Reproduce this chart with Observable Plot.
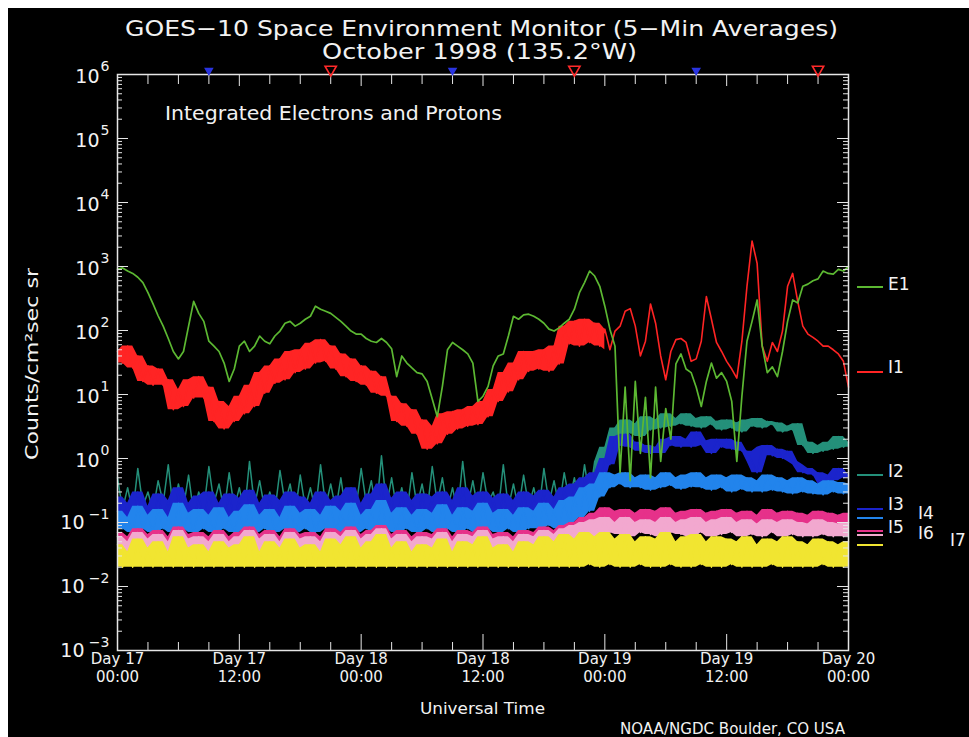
<!DOCTYPE html>
<html><head><meta charset="utf-8">
<script src="https://cdn.jsdelivr.net/npm/d3@7"></script>
<script src="https://cdn.jsdelivr.net/npm/@observablehq/plot@0.6"></script>
<style>
html,body{margin:0;padding:0;background:#fff;}
#page{position:relative;width:969px;height:737px;overflow:hidden;background:#fff;}
#bg{position:absolute;left:8px;top:8px;right:0;bottom:0;background:#000;}
#chart{position:absolute;left:0;top:60px;}
#overlay{position:absolute;left:0;top:0;pointer-events:none;}
</style></head>
<body><div id="page"><div id="bg"></div><div id="chart"></div><svg id="overlay" width="969" height="737"></svg></div>
<script>
// ---------------- data (sampled every 30 min, Day 17 00:00 -> Day 20 00:00 UT) ----------------
const stepHours = 0.5;
const E1 = [
 900,950,850,780,680,560,390,260,170,117,
 75,47,36,47,117,285,185,139,68,57,
 47,31,16,25,57,68,47,57,82,68,
 62,82,98,130,139,117,130,150,167,240,
 215,200,185,160,139,117,98,88,88,75,
 68,65,75,65,52,19,40,31,26,22,
 21,16,8.5,4.5,13.4,50,65,57,50,43,
 31,7.8,9.4,13.4,28,40,43,82,167,150,
 175,180,167,150,130,105,98,110,130,150,
 215,390,560,850,710,490,240,105,57,0.6,
 13,0.45,16,1.2,9,0.5,13,0.9,6,2,
 30,43,25,22,13,6.5,16,31,18,22,
 16,7.8,0.9,9.4,68,139,300,57,22,27,
 19,47,139,300,270,490,530,600,640,850,
 780,760,900,850,1000];
const I1 = [
 47,31,57,26,40,16,28,14,25,14,
 17,5.8,12,6.5,17,8.8,19,8.8,13,3.8,
 7.8,2.9,6.5,3.8,9.4,5,14,6.5,22,10.5,
 28,15,36,17,47,22,50,25,63,31,
 72,33,57,25,43,19,36,16,28,14,
 23,10.5,19,9.4,9.4,3.8,7.2,3.2,5.8,2.4,
 4,1.4,3.2,1.7,5,2.4,5.4,2.9,5.8,3.2,
 6.5,3.4,7.8,4.5,12,7.8,22,11,31,17,
 47,23,47,25,50,23,57,30,117,62,
 139,57,150,65,130,57,105,50,98,117,
 200,220,117,40,68,260,130,40,17,47,
 72,75,65,33,36,68,340,150,65,47,
 33,25,18,68,490,2500,1120,57,33,65,
 47,98,490,780,285,117,88,78,68,57,
 57,50,43,33,13];
const I2 = [
 0.5,0.16,0.35,0.14,0.7,0.18,0.3,0.15,0.45,0.2,0.8,0.15,0.4,0.17,0.55,0.14,0.3,0.16,0.75,0.2,
 0.4,0.15,0.6,0.17,0.35,0.14,0.9,0.18,0.45,0.16,0.3,0.15,0.65,0.2,0.4,0.14,0.55,0.17,0.35,0.15,
 0.8,0.18,0.4,0.16,0.5,0.14,0.3,0.17,0.7,0.2,0.45,0.15,1.1,0.18,0.5,0.16,0.35,0.14,0.6,0.18,
 0.4,0.15,0.75,0.2,0.5,0.16,0.35,0.14,0.9,0.18,0.45,0.16,0.6,0.2,0.3,0.15,0.8,0.17,0.4,0.16,
 0.55,0.18,0.35,0.15,0.7,0.2,0.45,0.17,0.6,0.22,0.5,0.2,0.8,0.25,
 0.9,0.5,1.5,1.0,3,1.8,4,2.5,3.5,2.2,
 4.5,2.8,4,3,5,3.2,4.2,3.5,5,3.2,
 4.2,3.0,4.5,3.4,3.8,2.8,4,3,3.6,2.6,
 4,3.2,4.2,3,3.8,3.4,3.6,2.6,3.2,2.8,
 3.5,1.6,1.8,1.2,1.6,1.3,1.8,1.4,2.2,1.5,
 1.8];
const I3 = [
 0.25,0.11,0.2,0.1,0.3,0.12,0.18,0.1,0.28,0.11,0.22,0.09,0.35,0.12,0.2,0.1,0.26,0.11,0.3,0.12,
 0.2,0.1,0.28,0.11,0.24,0.09,0.32,0.12,0.2,0.1,0.27,0.11,0.22,0.1,0.3,0.12,0.25,0.11,0.2,0.1,
 0.3,0.12,0.22,0.1,0.26,0.11,0.35,0.12,0.2,0.1,0.28,0.11,0.4,0.12,0.24,0.1,0.3,0.11,0.22,0.1,
 0.28,0.12,0.25,0.1,0.3,0.11,0.22,0.1,0.35,0.12,0.26,0.11,0.3,0.1,0.24,0.11,0.28,0.12,0.22,0.1,
 0.3,0.12,0.26,0.11,0.32,0.12,0.25,0.12,0.35,0.14,0.4,0.16,0.5,0.2,
 0.6,0.4,1.0,0.8,2.2,1.6,2.4,1.5,1.8,1.3,
 1.6,1.2,1.5,1.2,2.0,1.6,2.2,1.5,2.0,1.5,
 2.6,1.9,1.6,1.2,2.0,1.5,2.0,1.4,1.8,1.3,
 1.3,0.9,0.6,1.5,1.6,1.1,1.4,1.0,1.3,0.9,
 0.8,0.6,0.7,0.55,0.6,0.4,0.55,0.45,0.7,0.5,
 0.55];
const I4 = [
 0.15,0.08,0.12,0.07,0.18,0.08,0.13,0.07,0.16,0.08,0.12,0.07,0.2,0.08,0.14,0.07,0.16,0.08,0.13,0.07,
 0.17,0.08,0.12,0.07,0.15,0.08,0.19,0.07,0.13,0.08,0.16,0.07,0.12,0.08,0.18,0.07,0.14,0.08,0.16,0.07,
 0.13,0.08,0.18,0.07,0.15,0.08,0.2,0.07,0.13,0.08,0.16,0.07,0.22,0.08,0.14,0.07,0.17,0.08,0.13,0.07,
 0.16,0.08,0.14,0.07,0.19,0.08,0.13,0.07,0.17,0.08,0.15,0.07,0.2,0.08,0.14,0.07,0.16,0.08,0.13,0.07,
 0.17,0.08,0.15,0.08,0.2,0.09,0.16,0.08,0.22,0.1,0.25,0.12,0.35,0.15,
 0.4,0.25,0.6,0.35,0.55,0.4,0.6,0.35,0.5,0.35,
 0.55,0.32,0.5,0.35,0.6,0.38,0.5,0.33,0.55,0.36,
 0.6,0.35,0.5,0.32,0.55,0.35,0.5,0.3,0.55,0.33,
 0.5,0.3,0.45,0.3,0.55,0.32,0.5,0.3,0.45,0.28,
 0.5,0.3,0.45,0.28,0.4,0.27,0.45,0.3,0.42,0.28,
 0.4];
const I5 = [
 0.07,0.042,0.06,0.04,0.08,0.045,0.065,0.04,0.075,0.043,0.06,0.04,0.085,0.045,0.065,0.04,0.07,0.042,0.06,0.04,
 0.075,0.043,0.06,0.04,0.07,0.045,0.085,0.04,0.065,0.042,0.075,0.04,0.06,0.043,0.08,0.04,0.065,0.045,0.07,0.04,
 0.06,0.042,0.08,0.04,0.07,0.045,0.085,0.04,0.065,0.043,0.075,0.04,0.09,0.045,0.065,0.04,0.075,0.042,0.06,0.04,
 0.07,0.043,0.065,0.04,0.08,0.045,0.06,0.04,0.075,0.042,0.07,0.04,0.085,0.045,0.065,0.04,0.07,0.043,0.06,0.04,
 0.075,0.045,0.07,0.045,0.085,0.05,0.075,0.048,0.09,0.055,0.1,0.06,0.12,0.07,
 0.14,0.08,0.17,0.1,0.15,0.1,0.16,0.09,0.14,0.1,0.16,0.09,0.15,0.1,0.17,0.1,0.14,0.09,0.15,0.1,
 0.16,0.09,0.14,0.1,0.15,0.09,0.16,0.1,0.14,0.09,0.15,0.1,0.13,0.09,0.16,0.1,0.14,0.09,0.15,0.1,
 0.14,0.09,0.13,0.09,0.15,0.1,0.14,0.09,0.13,0.09,
 0.14];
const I6 = [
 0.06,0.035,0.05,0.033,0.07,0.036,0.055,0.034,0.065,0.035,0.05,0.033,0.075,0.036,0.055,0.034,0.06,0.035,0.05,0.033,
 0.065,0.035,0.05,0.034,0.06,0.036,0.075,0.033,0.055,0.035,0.065,0.034,0.05,0.035,0.07,0.033,0.055,0.036,0.06,0.034,
 0.05,0.035,0.07,0.033,0.06,0.036,0.075,0.034,0.055,0.035,0.065,0.033,0.08,0.036,0.055,0.034,0.065,0.035,0.05,0.033,
 0.06,0.035,0.055,0.034,0.07,0.036,0.05,0.033,0.065,0.035,0.06,0.034,0.075,0.036,0.055,0.033,0.06,0.035,0.05,0.034,
 0.065,0.036,0.06,0.036,0.075,0.04,0.065,0.04,0.08,0.045,0.09,0.05,0.1,0.055,
 0.11,0.06,0.12,0.07,0.1,0.065,0.12,0.06,0.1,0.07,0.11,0.065,0.1,0.06,0.12,0.07,0.1,0.065,0.11,0.06,
 0.12,0.07,0.1,0.06,0.11,0.065,0.12,0.07,0.1,0.06,0.11,0.065,0.095,0.06,0.11,0.07,0.1,0.06,0.11,0.065,
 0.1,0.06,0.095,0.06,0.11,0.065,0.1,0.06,0.095,0.06,
 0.1];
const I7 = [
 0.045,0.02,0.035,0.02,0.055,0.02,0.04,0.02,0.05,0.02,0.035,0.02,0.06,0.02,0.04,0.02,0.045,0.02,0.035,0.02,
 0.05,0.02,0.04,0.02,0.045,0.02,0.06,0.02,0.035,0.02,0.05,0.02,0.04,0.02,0.055,0.02,0.04,0.02,0.045,0.02,
 0.035,0.02,0.055,0.02,0.045,0.02,0.06,0.02,0.04,0.02,0.05,0.02,0.065,0.02,0.04,0.02,0.05,0.02,0.035,0.02,
 0.045,0.02,0.04,0.02,0.055,0.02,0.035,0.02,0.05,0.02,0.045,0.02,0.06,0.02,0.04,0.02,0.045,0.02,0.035,0.02,
 0.05,0.02,0.045,0.02,0.06,0.02,0.05,0.02,0.065,0.02,0.055,0.02,0.07,0.022,
 0.06,0.02,0.07,0.022,0.055,0.02,0.065,0.02,0.05,0.022,0.06,0.02,0.055,0.02,0.07,0.022,0.05,0.02,0.06,0.02,
 0.065,0.022,0.05,0.02,0.06,0.02,0.055,0.022,0.05,0.02,0.06,0.02,0.045,0.02,0.055,0.022,0.05,0.02,0.06,0.02,
 0.05,0.02,0.045,0.02,0.055,0.022,0.05,0.02,0.045,0.02,
 0.05];

const seriesNames = ["E1","I1","I2","I3","I4","I5","I6","I7"];
const seriesValues = [E1, I1, I2, I3, I4, I5, I6, I7];
const seriesColors = ["#5cb832","#ff2424","#24907a","#1b24cc","#2284ec","#e6318a","#f2a8cf","#f1e531"];
// hour range in which each series is drawn as a dense band (null = thin line only)
const bandRange = [null, [0, 48], [47, 72], [0, 72], [0, 72], [0, 72], [0, 72], [0, 72]];

// axis ticks / labels
const xMajor = [0, 12, 24, 36, 48, 60, 72];
const xMinor = [3,6,9,15,18,21,27,30,33,39,42,45,51,54,57,63,66,69];
const xLabels = ["Day 17\n00:00","Day 17\n12:00","Day 18\n00:00","Day 18\n12:00","Day 19\n00:00","Day 19\n12:00","Day 20\n00:00"];
const yTicks = [1e-3,1e-2,1e-1,1,10,100,1e3,1e4,1e5,1e6];
const yExp = ["\u22123","\u22122","\u22121","0","1","2","3","4","5","6"];
const yMinor = yTicks.slice(0, -1).flatMap(p => [2,3,4,5,6,7,8,9].map(m => m * p));
const midnightLT = [9, 33, 57];   // local midnight (UT hours)
const noonLT = [21, 45, 69];      // local noon (UT hours)

// ---------------- layout ----------------
const W = 969, H = 640, mL = 117, mR = 121, mT = 14, mB = 50;
const fW = W - mL - mR, fH = H - mT - mB;
const axisColor = "#e6e6e6";
const widths = [1.7, 1.6, 1.5, 1.4, 1.4, 1.4, 1.4, 1.4];

// dense band between neighbouring samples (visual envelope of the 5-min noise)
function envelope(vals, range) {
  const out = [];
  vals.forEach((v, i) => {
    const t = i * stepHours;
    if (t < range[0] || t > range[1]) return;
    const nb = vals.slice(Math.max(0, i - 1), i + 2);
    out.push({t, lo: d3.min(nb), hi: d3.max(nb)});
  });
  return out;
}
function seriesMarks(k) {
  const vals = seriesValues[k], col = seriesColors[k];
  const m = [];
  if (bandRange[k])
    m.push(Plot.areaY(envelope(vals, bandRange[k]), {x: "t", y1: "lo", y2: "hi", fill: col}));
  m.push(Plot.line(vals, {x: (d, i) => i * stepHours, y: d => d, stroke: col, strokeWidth: widths[k]}));
  return m;
}
const order = [1, 2, 3, 4, 5, 6, 7, 0];
const dataMarks = order.flatMap(seriesMarks);

const plot = Plot.plot({
  width: W, height: H, marginLeft: mL, marginRight: mR, marginTop: mT, marginBottom: mB,
  style: {background: "transparent", color: "#f2f2f2", fontFamily: "'DejaVu Sans', sans-serif", overflow: "visible"},
  x: {domain: [0, 72], axis: null},
  y: {type: "log", domain: [1e-3, 1e6], axis: null},
  marks: [
    ...dataMarks,
    // inward ticks
    Plot.ruleX(xMinor, {stroke: axisColor, insetTop: fH - 8}),
    Plot.ruleX(xMajor, {stroke: axisColor, insetTop: fH - 16}),
    Plot.ruleX(xMinor, {stroke: axisColor, insetBottom: fH - 10}),
    Plot.ruleX(xMajor, {stroke: axisColor, insetBottom: fH - 12}),
    Plot.ruleY(yMinor, {stroke: axisColor, insetRight: fW - 5}),
    Plot.ruleY(yTicks, {stroke: axisColor, insetRight: fW - 11}),
    Plot.ruleY(yMinor, {stroke: axisColor, insetLeft: fW - 5}),
    Plot.ruleY(yTicks, {stroke: axisColor, insetLeft: fW - 11}),
    Plot.frame({stroke: axisColor, strokeWidth: 1.5}),
    // x tick labels
    Plot.text(xMajor, {x: d => d, frameAnchor: "bottom", text: (d, i) => xLabels[i], dy: 1, lineAnchor: "top", fontSize: 15, lineHeight: 1.18}),
    // y tick labels 10^n
    Plot.text(yTicks.filter(d => d >= 1), {y: d => d, frameAnchor: "left", textAnchor: "end", dx: -18, dy: 2, text: () => "10", fontSize: 19}),
    Plot.text(yTicks.filter(d => d < 1), {y: d => d, frameAnchor: "left", textAnchor: "end", dx: -33, dy: 0, text: () => "10", fontSize: 19}),
    Plot.text(yTicks, {y: d => d, frameAnchor: "left", textAnchor: "end", dx: -8, dy: -8, text: d => yExp[yTicks.indexOf(d)], fontSize: 14}),
    // local midnight / noon markers
    Plot.dot(midnightLT, {x: d => d, frameAnchor: "top", symbol: "triangle", rotate: 180, r: 2.6, fill: "#2a34e0", stroke: "#2a34e0", dy: -4}),
    Plot.dot(noonLT, {x: d => d, frameAnchor: "top", symbol: "triangle", rotate: 180, r: 4.2, fill: "none", stroke: "#ff2a2a", strokeWidth: 1.6, dy: -5})
  ]
});
document.getElementById("chart").appendChild(plot);

// ---------------- annotations ----------------
const ov = d3.select("#overlay").attr("font-family", "'DejaVu Sans', sans-serif").attr("fill", "#f2f2f2");
function addText(str, x, y, size, len) {
  const t = ov.append("text").attr("x", x).attr("y", y).attr("font-size", size).text(str);
  if (len) t.attr("textLength", len).attr("lengthAdjust", "spacingAndGlyphs");
  return t;
}
addText("GOES\u221210 Space Environment Monitor (5\u2212Min Averages)", 125, 36, 22, 713);
addText("October 1998 (135.2\u00b0W)", 322, 59, 22, 315);
addText("Integrated Electrons and Protons", 165, 120, 19, 337);
addText("Universal Time", 420, 714, 16, 125);
addText("NOAA/NGDC Boulder, CO USA", 620, 734, 15, 225);
ov.append("text").attr("transform", "translate(38,460) rotate(-90)").attr("font-size", 17)
  .attr("textLength", 192).attr("lengthAdjust", "spacingAndGlyphs").text("Counts/cm\u00b2sec sr");

// legend
const legendLayout = [
  {line: 287, tx: 888, ty: 290},
  {line: 372, tx: 888, ty: 373},
  {line: 475, tx: 888, ty: 477},
  {line: 509, tx: 888, ty: 510},
  {line: 518, tx: 918, ty: 519},
  {line: 531, tx: 888, ty: 533},
  {line: 535, tx: 918, ty: 539},
  {line: 545, tx: 950, ty: 546}
];
seriesNames.forEach((name, k) => {
  const L = legendLayout[k];
  ov.append("line").attr("x1", 857).attr("x2", 883).attr("y1", L.line).attr("y2", L.line)
    .attr("stroke", seriesColors[k]).attr("stroke-width", 2);
  addText(name, L.tx, L.ty, 17);
});
</script>
</body></html>
